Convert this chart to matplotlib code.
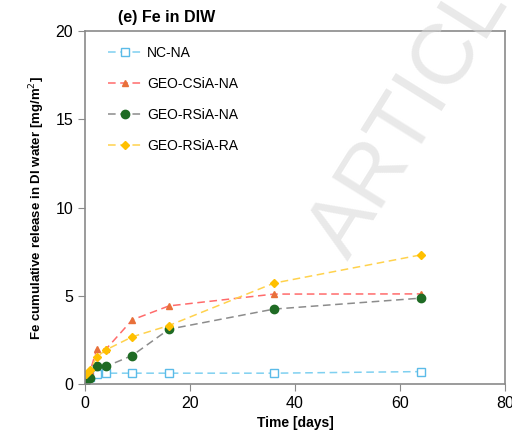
import matplotlib
matplotlib.use('Agg')
import matplotlib.pyplot as plt

plt.rcParams['font.family'] = ['Liberation Sans', 'DejaVu Sans']

days = [0.25, 1, 2.25, 4, 9, 16, 36, 64]
nc_na = [0.30, 0.40, 0.58, 0.62, 0.62, 0.62, 0.62, 0.71]
geo_csia_na = [0.40, 0.75, 2.00, 1.98, 3.64, 4.43, 5.10, 5.11]
geo_rsia_na = [0.20, 0.37, 1.00, 1.00, 1.62, 3.11, 4.25, 4.87]
geo_rsia_ra = [0.55, 0.80, 1.55, 1.94, 2.68, 3.32, 5.72, 7.32]

labels = ['NC-NA', 'GEO-CSiA-NA', 'GEO-RSiA-NA', 'GEO-RSiA-RA']

fig = plt.figure(figsize=(5.12, 4.37), dpi=100)
ax = fig.add_axes([0.166, 0.121, 0.820, 0.808])

dash = (0, (5, 3))
ax.plot(days, nc_na, linestyle=dash, color='#7fd0f0', lw=1.1, marker='s', ms=5.5,
        mfc='white', mec='#5bbbe8', mew=1.0, label=labels[0])
ax.plot(days, geo_csia_na, linestyle=dash, color='#ff6b6b', lw=1.1, marker='^', ms=5,
        mfc='#e8703a', mec='#e8703a', label=labels[1])
ax.plot(days, geo_rsia_na, linestyle=dash, color='#8c8c8c', lw=1.1, marker='o', ms=6,
        mfc='#1f6b24', mec='#1f6b24', label=labels[2])
ax.plot(days, geo_rsia_ra, linestyle=dash, color='#ffd24d', lw=1.1, marker='D', ms=4.5,
        mfc='#ffc000', mec='#ffc000', label=labels[3])

ax.set_xlim(0, 80)
ax.set_ylim(0, 20)
ax.set_xticks([0, 20, 40, 60, 80])
ax.set_yticks([0, 5, 10, 15, 20])
for s in ax.spines.values():
    s.set_color('#8a8a8a')
    s.set_linewidth(1.2)
ax.tick_params(direction='out', length=5, color='#8a8a8a', labelsize=11.5, top=False, right=False)

ax.set_xlabel('Time [days]', fontsize=10, fontweight='bold')
ax.set_ylabel('Fe cumulative release in DI water [mg/m$^2$]', fontsize=9.5, fontweight='bold', labelpad=6)
ax.text(6.3, 20.5, '(e) Fe in DIW', fontsize=11.5, fontweight='bold', ha='left', va='baseline')

ax.legend(loc='upper left', bbox_to_anchor=(0.025, 0.993), frameon=False, fontsize=10,
          labelspacing=1.22, handlelength=2.5, handletextpad=0.3)

fig.text(0.83, 0.78, 'ARTICLE', fontsize=62, color='#d8d8d8', alpha=0.55, rotation=58,
         ha='center', va='center', zorder=10)

fig.savefig('out.png', dpi=100)
